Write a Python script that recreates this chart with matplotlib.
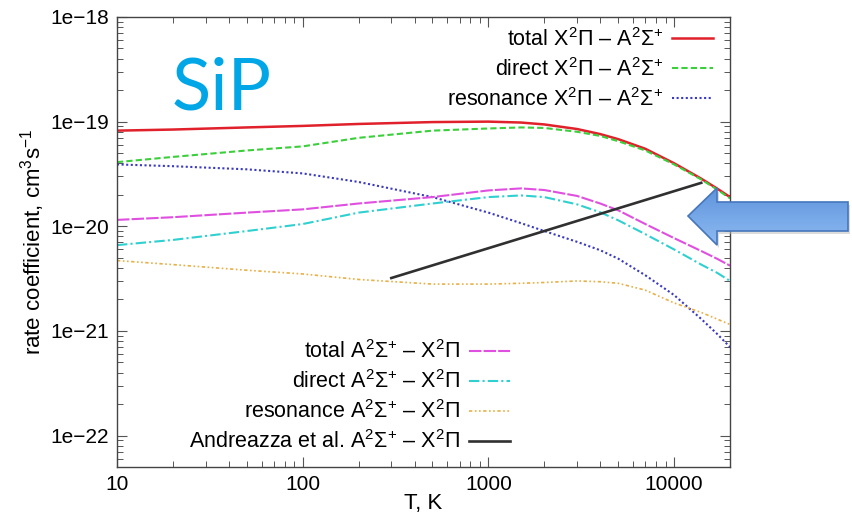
import matplotlib
matplotlib.use("Agg")
import matplotlib.pyplot as plt
import numpy as np
from matplotlib.patches import Polygon

# ---------------- data ----------------
T_grid = [10, 20, 50, 100, 200, 500, 1000, 1500, 2000, 3000, 4000, 5000, 7000, 10000, 14000, 17000, 20000]

total_XA = [8.2e-20, 8.4e-20, 8.8e-20, 9.1e-20, 9.5e-20, 9.9e-20, 1.0e-19, 9.8e-20, 9.4e-20,
            8.5e-20, 7.6e-20, 6.8e-20, 5.5e-20, 4.0e-20, 2.85e-20, 2.3e-20, 1.9e-20]
direct_XA = [4.1e-20, 4.6e-20, 5.3e-20, 5.8e-20, 7.0e-20, 8.2e-20, 8.6e-20, 8.8e-20, 8.7e-20,
             8.0e-20, 7.3e-20, 6.5e-20, 5.3e-20, 3.9e-20, 2.8e-20, 2.25e-20, 1.85e-20]
reson_XA = [3.9e-20, 3.75e-20, 3.5e-20, 3.2e-20, 2.65e-20, 1.9e-20, 1.35e-20, 1.07e-20, 9.0e-21,
            7.1e-21, 5.9e-21, 4.9e-21, 3.4e-21, 2.2e-21, 1.3e-21, 9.4e-22, 7.0e-22]
total_AX = [1.15e-20, 1.22e-20, 1.35e-20, 1.45e-20, 1.65e-20, 1.9e-20, 2.2e-20, 2.3e-20, 2.22e-20,
            1.95e-20, 1.65e-20, 1.42e-20, 1.05e-20, 7.7e-21, 5.8e-21, 4.9e-21, 4.2e-21]
direct_AX = [6.6e-21, 7.4e-21, 9.0e-21, 1.05e-20, 1.35e-20, 1.65e-20, 1.9e-20, 1.97e-20, 1.9e-20,
             1.62e-20, 1.36e-20, 1.14e-20, 8.4e-21, 6.0e-21, 4.3e-21, 3.6e-21, 3.0e-21]
reson_AX = [4.7e-21, 4.3e-21, 3.8e-21, 3.5e-21, 3.1e-21, 2.8e-21, 2.8e-21, 2.85e-21, 2.9e-21,
            3.0e-21, 2.95e-21, 2.85e-21, 2.45e-21, 1.85e-21, 1.5e-21, 1.3e-21, 1.15e-21]
T_andreazza = [300, 14000]
andreazza_AX = [3.2e-21, 2.6e-20]

labels_top = [r"total X$^2\Pi$ – A$^2\Sigma^{+}$",
              r"direct X$^2\Pi$ – A$^2\Sigma^{+}$",
              r"resonance X$^2\Pi$ – A$^2\Sigma^{+}$"]
labels_bot = [r"total A$^2\Sigma^{+}$ – X$^2\Pi$",
              r"direct A$^2\Sigma^{+}$ – X$^2\Pi$",
              r"resonance A$^2\Sigma^{+}$ – X$^2\Pi$",
              r"Andreazza et al. A$^2\Sigma^{+}$ – X$^2\Pi$"]
xticks = [10, 100, 1000, 10000]
xtick_labels = ["10", "100", "1000", "10000"]
yticks = [1e-22, 1e-21, 1e-20, 1e-19, 1e-18]
ytick_labels = ["1e−22", "1e−21", "1e−20", "1e−19", "1e−18"]

# ---------------- figure ----------------
plt.rcParams['font.family'] = ['Liberation Sans', 'DejaVu Sans']
plt.rcParams['mathtext.fontset'] = 'custom'
plt.rcParams['mathtext.rm'] = 'Liberation Sans'
plt.rcParams['mathtext.it'] = 'Liberation Sans:italic'

W, H = 853, 515
fig = plt.figure(figsize=(W / 100, H / 100), dpi=100)
ax = fig.add_axes([117 / W, 1 - 467 / H, (730 - 117) / W, (467 - 17) / H])
ax.set_xscale('log')
ax.set_yscale('log')
ax.set_xlim(10, 20000)
ax.set_ylim(5e-23, 1e-18)

lw = 1.5
l1, = ax.plot(T_grid, total_XA, color='#e0202a', lw=lw + 0.3, ls='-')
l2, = ax.plot(T_grid, direct_XA, color='#3ccf3c', lw=lw, ls=(0, (3, 1.5)))
l3, = ax.plot(T_grid, reson_XA, color='#3a3ac0', lw=lw, ls=(0, (1, 1.2)))
l4, = ax.plot(T_grid, total_AX, color='#e050e0', lw=lw, ls=(0, (6, 1)))
l5, = ax.plot(T_grid, direct_AX, color='#30d0d0', lw=lw, ls=(0, (5, 1.5, 1, 1.5)))
l6, = ax.plot(T_grid, reson_AX, color='#e8b048', lw=lw - 0.3, ls=(0, (2, 1.5, 1, 1.5, 1, 1.5)))
l7, = ax.plot(T_andreazza, andreazza_AX, color='#303030', lw=lw + 0.4, ls='-')

ax.set_xticks(xticks)
ax.set_xticklabels(xtick_labels)
ax.set_yticks(yticks)
ax.set_yticklabels(ytick_labels)
ax.tick_params(which='both', direction='in', top=True, right=True, labelsize=15,
               color='#555555')
ax.tick_params(which='major', length=7, width=0.8, pad=6)
ax.tick_params(which='minor', length=4, width=0.7)
for s in ax.spines.values():
    s.set_color('#444444')
    s.set_linewidth(1.0)

ax.set_xlabel("T, K", fontsize=16, labelpad=-1)
ax.set_ylabel(r"rate coefficient, cm$^3$s$^{-1}$", fontsize=16, labelpad=2)

leg_kw = dict(markerfirst=False, frameon=False, fontsize=15.5, handlelength=1.9,
              handletextpad=0.4, labelspacing=0.33, borderaxespad=0, borderpad=0)
leg1 = ax.legend([l1, l2, l3], labels_top, loc='upper right',
                 bbox_to_anchor=(0.972, 0.976), **leg_kw)
ax.add_artist(leg1)
ax.legend([l4, l5, l6, l7], labels_bot, loc='lower right',
          bbox_to_anchor=(0.641, 0.03), **leg_kw)

# SiP label
fig.text(172 / W, 1 - 110 / H, "SiP", color='#00a6e6', fontsize=52,
         family=['Lato', 'DejaVu Sans'], ha='left', va='baseline')

# Block arrow (pointing left) with gradient fill
arrow_px = [(688, 216), (717, 188), (717, 202), (848, 202),
            (848, 231), (717, 231), (717, 245)]
x0, x1, y0, y1 = 680, 853, 180, 255
aax = fig.add_axes([x0 / W, 1 - y1 / H, (x1 - x0) / W, (y1 - y0) / H])
aax.set_xlim(x0, x1)
aax.set_ylim(y1, y0)
aax.axis('off')
shadow = Polygon([(px + 2, py + 3) for px, py in arrow_px], closed=True,
                 facecolor='#bbbbbb', edgecolor='none', alpha=0.5, zorder=1)
aax.add_patch(shadow)
grad = np.linspace(0, 1, 100).reshape(-1, 1)
cmap = matplotlib.colors.LinearSegmentedColormap.from_list('g', ['#5f94dc', '#8dbaf2'])
img = aax.imshow(grad, cmap=cmap, extent=(688, 848, 245, 188), aspect='auto', zorder=2)
poly = Polygon(arrow_px, closed=True, facecolor='none', edgecolor='#4677bd',
               linewidth=1.2, zorder=3)
aax.add_patch(poly)
img.set_clip_path(poly)
aax.set_xlim(x0, x1)
aax.set_ylim(y1, y0)

fig.savefig("out.png", dpi=100)
